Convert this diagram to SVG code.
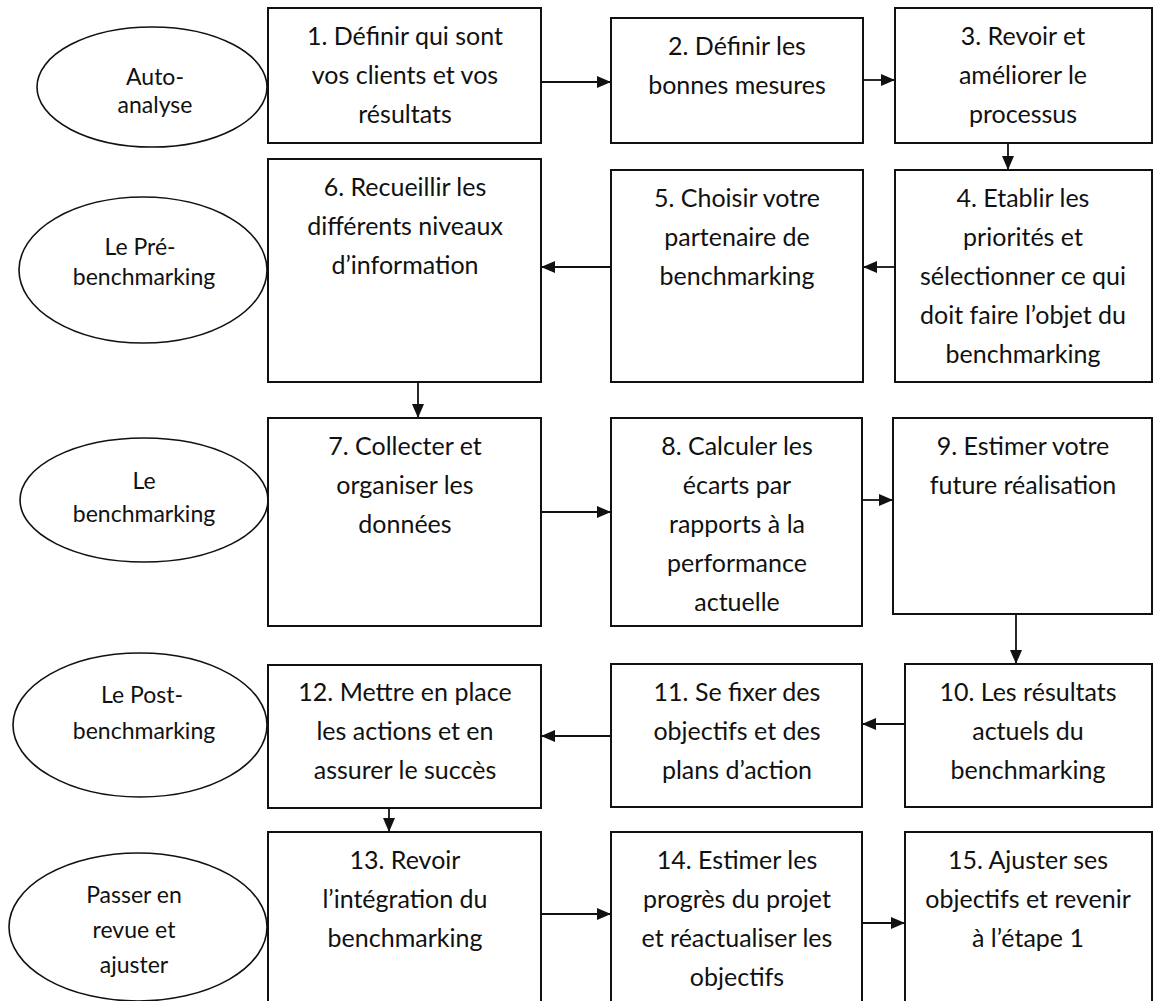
<svg xmlns="http://www.w3.org/2000/svg" width="1158" height="1001" viewBox="0 0 1158 1001">
<style>
.box{fill:#fff;stroke:#111;stroke-width:2}
.ell{fill:#fff;stroke:#111;stroke-width:1.6}
.t{font-family:Lato,"Open Sans","Liberation Sans",sans-serif;font-size:25px;fill:#111;text-anchor:middle}
.e{font-family:Lato,"Open Sans","Liberation Sans",sans-serif;font-size:23px;fill:#111;text-anchor:middle}
.c{stroke:#111;stroke-width:1.8;fill:none;marker-end:url(#ah)}
</style>
<defs>
<marker id="ah" markerUnits="userSpaceOnUse" markerWidth="15" markerHeight="13" refX="14" refY="6" orient="auto">
<path d="M0,0 L14,6 L0,12 z" fill="#111"/>
</marker>
</defs>
<rect width="1158" height="1001" fill="#fff"/>

<g id="phase-auto-analyse"><ellipse class="ell" cx="152" cy="87" rx="115" ry="60"/>
<text class="e" x="155" y="85">Auto-</text><text class="e" x="155" y="113">analyse</text></g>
<g id="phase-pre"><ellipse class="ell" cx="143" cy="270" rx="124" ry="73"/>
<text class="e" x="140" y="255">Le Pré-</text><text class="e" x="144" y="285">benchmarking</text></g>
<g id="phase-bench"><ellipse class="ell" cx="144" cy="500" rx="124" ry="62"/>
<text class="e" x="144" y="489">Le</text><text class="e" x="144" y="522">benchmarking</text></g>
<g id="phase-post"><ellipse class="ell" cx="140" cy="725" rx="127" ry="72"/>
<text class="e" x="142" y="703">Le Post-</text><text class="e" x="144" y="739">benchmarking</text></g>
<g id="phase-revue"><ellipse class="ell" cx="138" cy="927" rx="129" ry="74"/>
<text class="e" x="134" y="903">Passer en</text><text class="e" x="134" y="938">revue et</text><text class="e" x="134" y="973">ajuster</text></g>

<g id="step1"><rect class="box" x="268" y="8" width="273" height="135"/>
<text class="t" x="405" y="45">1. Définir qui sont</text><text class="t" x="405" y="84">vos clients et vos</text><text class="t" x="405" y="123">résultats</text></g>
<g id="step2"><rect class="box" x="611" y="18" width="252" height="125"/>
<text class="t" x="737" y="55">2. Définir les</text><text class="t" x="737" y="94">bonnes mesures</text></g>
<g id="step3"><rect class="box" x="895" y="8" width="257" height="135"/>
<text class="t" x="1023" y="45">3. Revoir et</text><text class="t" x="1023" y="84">améliorer le</text><text class="t" x="1023" y="123">processus</text></g>

<g id="step6"><rect class="box" x="268" y="159" width="273" height="223"/>
<text class="t" x="405" y="196">6. Recueillir les</text><text class="t" x="405" y="235">différents niveaux</text><text class="t" x="405" y="274">d’information</text></g>
<g id="step5"><rect class="box" x="611" y="170" width="252" height="212"/>
<text class="t" x="737" y="207">5. Choisir votre</text><text class="t" x="737" y="246">partenaire de</text><text class="t" x="737" y="285">benchmarking</text></g>
<g id="step4"><rect class="box" x="895" y="170" width="257" height="212"/>
<text class="t" x="1023" y="207">4. Etablir les</text><text class="t" x="1023" y="246">priorités et</text><text class="t" x="1023" y="285">sélectionner ce qui</text><text class="t" x="1023" y="324">doit faire l’objet du</text><text class="t" x="1023" y="363">benchmarking</text></g>

<g id="step7"><rect class="box" x="268" y="418" width="273" height="208"/>
<text class="t" x="405" y="455">7. Collecter et</text><text class="t" x="405" y="494">organiser les</text><text class="t" x="405" y="533">données</text></g>
<g id="step8"><rect class="box" x="611" y="418" width="251" height="208"/>
<text class="t" x="737" y="455">8. Calculer les</text><text class="t" x="737" y="494">écarts par</text><text class="t" x="737" y="533">rapports à la</text><text class="t" x="737" y="572">performance</text><text class="t" x="737" y="611">actuelle</text></g>
<g id="step9"><rect class="box" x="893" y="418" width="259" height="196"/>
<text class="t" x="1023" y="455">9. Estimer votre</text><text class="t" x="1023" y="494">future réalisation</text></g>

<g id="step12"><rect class="box" x="268" y="665" width="273" height="143"/>
<text class="t" x="405" y="701">12. Mettre en place</text><text class="t" x="405" y="740">les actions et en</text><text class="t" x="405" y="779">assurer le succès</text></g>
<g id="step11"><rect class="box" x="611" y="664" width="251" height="143"/>
<text class="t" x="737" y="701">11. Se fixer des</text><text class="t" x="737" y="740">objectifs et des</text><text class="t" x="737" y="779">plans d’action</text></g>
<g id="step10"><rect class="box" x="905" y="664" width="247" height="143"/>
<text class="t" x="1028" y="701">10. Les résultats</text><text class="t" x="1028" y="740">actuels du</text><text class="t" x="1028" y="779">benchmarking</text></g>

<g id="step13"><rect class="box" x="268" y="832" width="273" height="180"/>
<text class="t" x="405" y="869">13. Revoir</text><text class="t" x="405" y="908">l’intégration du</text><text class="t" x="405" y="947">benchmarking</text></g>
<g id="step14"><rect class="box" x="611" y="832" width="251" height="180"/>
<text class="t" x="737" y="869">14. Estimer les</text><text class="t" x="737" y="908">progrès du projet</text><text class="t" x="737" y="947">et réactualiser les</text><text class="t" x="737" y="986">objectifs</text></g>
<g id="step15"><rect class="box" x="905" y="832" width="247" height="180"/>
<text class="t" x="1028" y="869">15. Ajuster ses</text><text class="t" x="1028" y="908">objectifs et revenir</text><text class="t" x="1028" y="947">à l’étape 1</text></g>

<g id="connectors">
<line class="c" x1="541" y1="82" x2="611" y2="82"/>
<line class="c" x1="863" y1="80" x2="895" y2="80"/>
<line class="c" x1="1008" y1="143" x2="1008" y2="170"/>
<line class="c" x1="895" y1="267" x2="863" y2="267"/>
<line class="c" x1="611" y1="267" x2="541" y2="267"/>
<line class="c" x1="418" y1="382" x2="418" y2="418"/>
<line class="c" x1="541" y1="512" x2="611" y2="512"/>
<line class="c" x1="862" y1="500" x2="893" y2="500"/>
<line class="c" x1="1016" y1="614" x2="1016" y2="664"/>
<line class="c" x1="905" y1="724" x2="862" y2="724"/>
<line class="c" x1="611" y1="736" x2="541" y2="736"/>
<line class="c" x1="389" y1="808" x2="389" y2="832"/>
<line class="c" x1="541" y1="914" x2="611" y2="914"/>
<line class="c" x1="862" y1="923" x2="905" y2="923"/>
</g>
</svg>
